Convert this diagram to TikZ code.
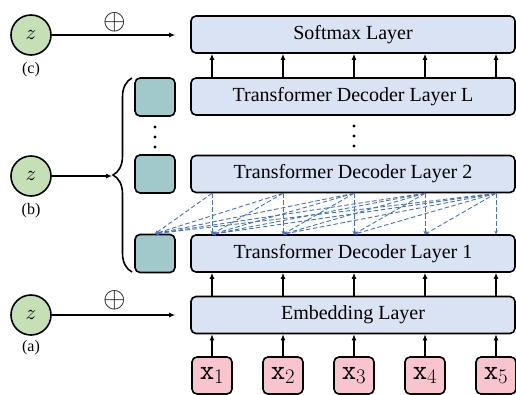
\documentclass[tikz,border=0pt]{standalone}
\usepackage{graphicx}
\usepackage{fontspec}
\setmainfont{Liberation Serif}
\usetikzlibrary{arrows.meta}
\usetikzlibrary{decorations.pathreplacing}
\tikzset{>=latex}
\definecolor{layerblue}{HTML}{DAE3F3}
\definecolor{prefixteal}{HTML}{A1C8CB}
\definecolor{tokenpink}{HTML}{F8C5CF}
\definecolor{zgreen}{HTML}{C5E0B4}
\definecolor{attnblue}{HTML}{4472C4}
\newcommand{\zsym}{\scalebox{2.1}{$z$}}
\newcommand{\plussym}{\scalebox{2.9}{$\oplus$}}
\tikzset{%
  layerbox/.style={draw, line width=1.6pt, rounded corners=5pt, fill=layerblue,
    minimum width=324pt, minimum height=37pt, inner sep=0pt,
    font=\fontsize{20}{24}\selectfont},
  prefixbox/.style={draw, line width=1.6pt, rounded corners=5pt, fill=prefixteal,
    minimum width=40pt, minimum height=38pt, inner sep=0pt},
  tokenbox/.style={draw, line width=1.6pt, rounded corners=5pt, fill=tokenpink,
    minimum width=40pt, minimum height=37pt, inner sep=0pt,
    font=\fontsize{28}{32}\selectfont},
  zcircle/.style={circle, draw, line width=1.6pt, fill=zgreen, minimum size=40pt,
    inner sep=0pt},
  zlabel/.style={font=\fontsize{16}{18}\selectfont},
  plussign/.style={inner sep=0pt},
  flow/.style={-{Latex[length=6pt,width=5pt]}, line width=1.1pt},
  attn/.style={draw=attnblue, line width=0.9pt, dash pattern=on 4.5pt off 2.5pt,
    -{Stealth[length=3.5pt,width=3.5pt]}}
}
\begin{document}
\begin{tikzpicture}[x=1pt, y=-1pt]
  \useasboundingbox (0,0) rectangle (516,394);

  % layers of the decoder stack
  \node[layerbox] (sm) at (353,34.5) {Softmax Layer};
  \node[layerbox] (decL) at (353,96.5) {Transformer Decoder Layer L};
  \node[layerbox] (dec2) at (353,174) {Transformer Decoder Layer 2};
  \node[layerbox] (dec1) at (353,253.5) {Transformer Decoder Layer 1};
  \node[layerbox] (emb) at (353,315) {Embedding Layer};

  % prefix blocks beside the decoder layers
  \node[prefixbox] (pL) at (155,97) {};
  \node[prefixbox] (p2) at (155,174) {};
  \node[prefixbox] (p1) at (155,253.5) {};

  % columns of the input tokens
  \foreach \i in {1,...,5} {
    \coordinate (col\i) at ({141+71*\i},0);
    \node[tokenbox] (x\i) at ({141+71*\i},375.5) {$\mathtt{x}_{\i}$};
  }

  % vertical dots between layer 2 and layer L
  \fill (354,126) circle (1.7pt) (354,136) circle (1.7pt) (354,146) circle (1.7pt);
  \fill (155,127) circle (1.7pt) (155,137) circle (1.7pt) (155,147) circle (1.7pt);

  % the three ways of feeding z
  \node[zcircle] (zc) at (31,35) {\zsym};
  \node[zlabel] at (31,70) {(c)};
  \node[zcircle] (zb) at (31,176) {\zsym};
  \node[zlabel] at (31,211) {(b)};
  \node[zcircle] (za) at (31,315) {\zsym};
  \node[zlabel] at (31,348) {(a)};

  \node[plussign] (plusc) at (115,22) {\plussym};
  \node[plussign] (plusa) at (115,300) {\plussym};
  \draw[flow, shorten >=15pt] (zc.east) -- (zc.east -| sm.west);
  \draw[flow, shorten >=15pt] (za.east) -- (za.east -| emb.west);

  % brace round the prefix blocks
  \draw[line width=1.6pt, decorate, decoration={brace, amplitude=19pt}]
    (132,272) -- (132,78);
  \coordinate (btip) at (112,176);
  \draw[flow] (zb.east) -- (btip);

  % upward arrows
  \foreach \i in {1,...,5} {
    \draw[flow] (x\i.north) -- (x\i.north |- emb.south);
    \draw[flow] (emb.north -| col\i) -- (dec1.south -| col\i);
    \draw[flow] (decL.north -| col\i) -- (sm.south -| col\i);
  }

  % attention from layer 2 down to layer 1 and the prefix
  \foreach \j in {1,...,5} {
    \draw[attn] (dec2.south -| col\j) -- (p1.north);
    \foreach \i in {1,...,\j}
      \draw[attn] (dec2.south -| col\j) -- (dec1.north -| col\i);
  }

\end{tikzpicture}
\end{document}
